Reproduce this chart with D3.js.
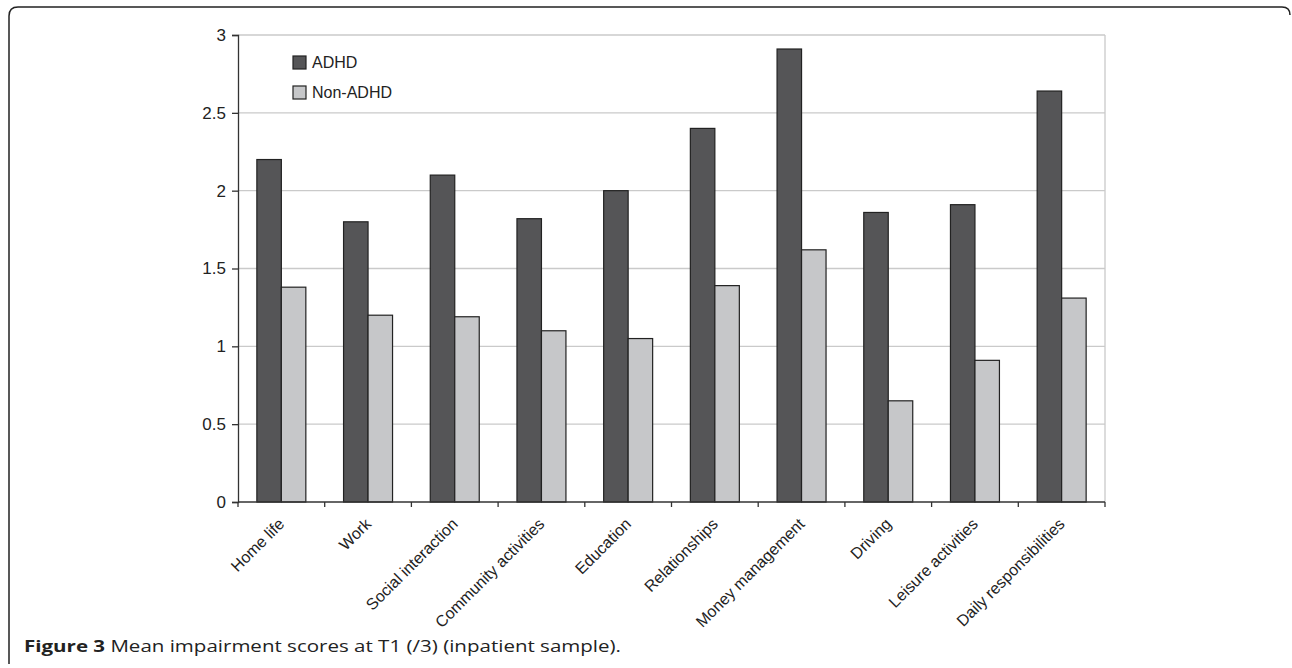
<!DOCTYPE html>
<html>
<head>
<meta charset="utf-8">
<script src="https://cdn.jsdelivr.net/npm/d3@7"></script>
<style>
  body { margin: 0; background: #fff; }
  svg { display: block; }
</style>
</head>
<body>
<div id="chart"></div>
<script>
// data
const categories = ['Home life', 'Work', 'Social interaction', 'Community activities', 'Education',
  'Relationships', 'Money management', 'Driving', 'Leisure activities', 'Daily responsibilities'];
const seriesNames = ['ADHD', 'Non-ADHD'];
const adhdValues = [2.2, 1.8, 2.1, 1.82, 2.0, 2.4, 2.91, 1.86, 1.91, 2.64];
const nonAdhdValues = [1.38, 1.2, 1.19, 1.1, 1.05, 1.39, 1.62, 0.65, 0.91, 1.31];
const yTicks = [0, 0.5, 1, 1.5, 2, 2.5, 3];
const captionBold = 'Figure 3';
const captionText = ' Mean impairment scores at T1 (/3) (inpatient sample).';

const width = 1292, height = 668;
const colors = ['#555557', '#c6c7c9'];
const plot = { left: 238, right: 1105, top: 35, bottom: 502 };

const svg = d3.select('#chart').append('svg')
  .attr('width', width).attr('height', height);

// frame around figure (top and left edge, rounded corners)
svg.append('path')
  .attr('d', 'M9,664 L9,16 Q9,7 18,7 L1282,7 Q1290,7 1290,15')
  .attr('fill', 'none').attr('stroke', '#222').attr('stroke-width', 1.5);

let x = d3.scaleBand().domain(categories).range([plot.left, plot.right]).paddingInner(0.435).paddingOuter(0.2175);
let xSub = d3.scaleBand().domain(seriesNames).range([0, x.bandwidth()]);
let y = d3.scaleLinear().domain([0, 3]).range([plot.bottom, plot.top]);

// gridlines
svg.append('g').selectAll('line').data(yTicks.filter(d => d > 0)).join('line')
  .attr('x1', plot.left).attr('x2', plot.right)
  .attr('y1', d => y(d)).attr('y2', d => y(d))
  .attr('stroke', '#cacaca').attr('stroke-width', 1.3);
// right border of plot area
svg.append('line')
  .attr('x1', plot.right).attr('x2', plot.right)
  .attr('y1', plot.top).attr('y2', plot.bottom)
  .attr('stroke', '#cacaca').attr('stroke-width', 1.3);

// bars
const rows = categories.map((c, i) => ({ cat: c, vals: [adhdValues[i], nonAdhdValues[i]] }));
const groups = svg.append('g').selectAll('g').data(rows).join('g')
  .attr('transform', d => `translate(${x(d.cat)},0)`);
groups.selectAll('rect').data(d => d.vals.map((v, j) => ({ v, s: seriesNames[j], j }))).join('rect')
  .attr('x', d => xSub(d.s))
  .attr('y', d => y(d.v))
  .attr('width', xSub.bandwidth())
  .attr('height', d => y(0) - y(d.v))
  .attr('fill', d => colors[d.j])
  .attr('stroke', '#222').attr('stroke-width', 1.2);

// y axis
const yAxis = d3.axisLeft(y).tickValues(yTicks).tickSize(6).tickPadding(6).tickFormat(d3.format('~g'));
const gy = svg.append('g').attr('transform', `translate(${plot.left},0)`).call(yAxis);
gy.select('.domain').attr('stroke', '#333').attr('stroke-width', 1.3);
gy.selectAll('.tick line').attr('stroke', '#333').attr('stroke-width', 1.3);
gy.selectAll('.tick text').attr('font-family', 'Liberation Sans, Arial, sans-serif')
  .attr('font-size', 17).attr('fill', '#222');

// x axis: ticks at category boundaries
const step = x.step();
const bounds = d3.range(categories.length + 1).map(i => plot.left + i * step);
svg.append('line').attr('x1', plot.left).attr('x2', plot.right)
  .attr('y1', plot.bottom).attr('y2', plot.bottom)
  .attr('stroke', '#333').attr('stroke-width', 1.3);
svg.append('g').selectAll('line').data(bounds).join('line')
  .attr('x1', d => d).attr('x2', d => d)
  .attr('y1', plot.bottom).attr('y2', plot.bottom + 5)
  .attr('stroke', '#333').attr('stroke-width', 1.3);

svg.append('g').selectAll('text').data(categories).join('text')
  .attr('transform', d => `translate(${x(d) + x.bandwidth() / 2 + 4},${plot.bottom + 23}) rotate(-45)`)
  .attr('text-anchor', 'end')
  .attr('font-family', 'Liberation Sans, Arial, sans-serif')
  .attr('font-size', 16).attr('fill', '#222')
  .text(d => d);

// legend
const legend = svg.append('g').selectAll('g').data(seriesNames).join('g')
  .attr('transform', (d, i) => `translate(293,${56 + i * 30})`);
legend.append('rect').attr('width', 13).attr('height', 13)
  .attr('fill', (d, i) => colors[i]).attr('stroke', '#222').attr('stroke-width', 1.2);
legend.append('text').attr('x', 19).attr('y', 12)
  .attr('font-family', 'Liberation Sans, Arial, sans-serif')
  .attr('font-size', 16).attr('fill', '#222')
  .text(d => d);

// caption
const cap = svg.append('text').attr('x', 24).attr('y', 652)
  .attr('font-family', 'Open Sans, Noto Sans, sans-serif')
  .attr('font-size', 15.5).attr('fill', '#222')
  .attr('textLength', 597).attr('lengthAdjust', 'spacingAndGlyphs');
cap.append('tspan').attr('font-weight', 'bold').text(captionBold);
cap.append('tspan').text(captionText);
</script>
</body>
</html>
